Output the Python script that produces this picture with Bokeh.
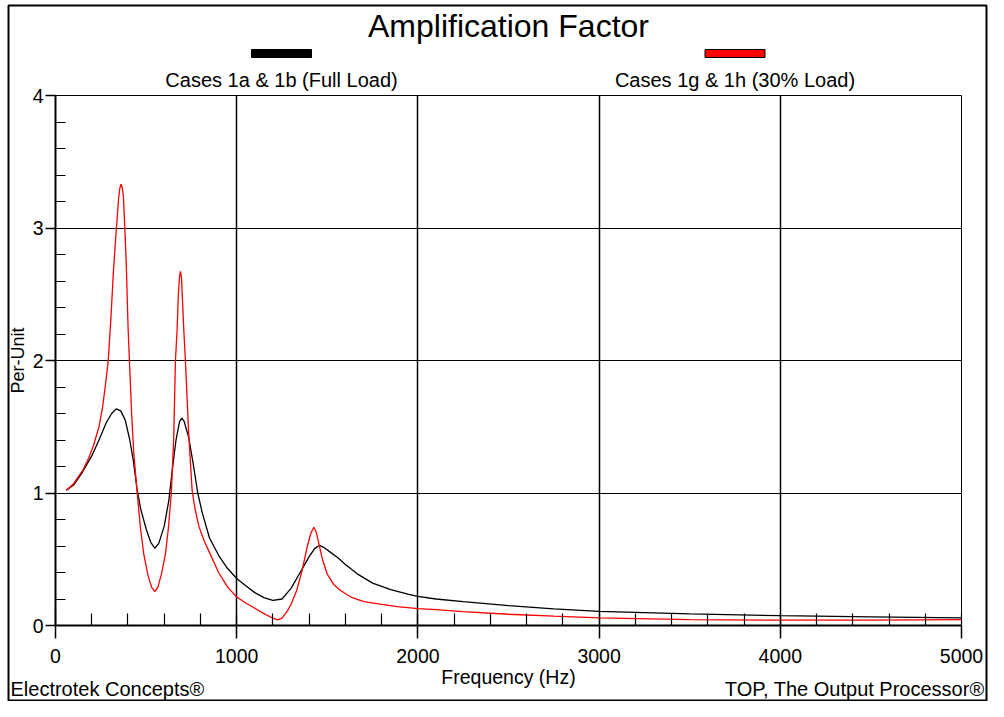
from bokeh.plotting import figure
from bokeh.models import Range1d, SingleIntervalTicker
from bokeh.core.properties import value
from bokeh.embed import file_html
from bokeh.resources import INLINE

TITLE = "Amplification Factor"
SERIES_NAMES = ["Cases 1a & 1b (Full Load)", "Cases 1g & 1h (30% Load)"]
SERIES_COLORS = ["#000000", "#ff0000"]
X_LABEL = "Frequency (Hz)"
Y_LABEL = "Per-Unit"
FOOT_LEFT = "Electrotek Concepts®"
FOOT_RIGHT = "TOP, The Output Processor®"

full_freq = [60, 100, 150, 200, 240, 280, 310, 335, 360, 385, 410, 430, 450, 470,
             500, 525, 548, 570, 600, 625, 645, 665, 685, 697, 710, 735, 760, 785,
             810, 850, 900, 950, 1000, 1050, 1100, 1150, 1200, 1250, 1300, 1350,
             1400, 1430, 1455, 1480, 1520, 1560, 1600, 1665, 1750, 1850, 1950,
             2000, 2100, 2250, 2500, 2750, 3000, 3500, 4000, 4500, 5000]
full_val = [1.02, 1.06, 1.16, 1.28, 1.40, 1.53, 1.60, 1.635, 1.62, 1.55, 1.40, 1.24,
            1.03, 0.88, 0.73, 0.63, 0.583, 0.62, 0.75, 0.94, 1.18, 1.40, 1.54, 1.565,
            1.54, 1.42, 1.22, 1.00, 0.85, 0.66, 0.53, 0.43, 0.355, 0.30, 0.248, 0.21,
            0.189, 0.20, 0.28, 0.40, 0.52, 0.58, 0.604, 0.59, 0.55, 0.51, 0.46, 0.39,
            0.32, 0.27, 0.235, 0.22, 0.20, 0.18, 0.15, 0.125, 0.107, 0.088, 0.074,
            0.065, 0.058]

light_freq = [60, 100, 150, 185, 210, 240, 260, 276, 291, 305, 320, 331, 340, 348,
              355, 362, 369, 375, 381, 390, 401, 408, 420, 432, 451, 470, 487, 510,
              530, 548, 565, 585, 607, 625, 640, 652, 662, 671, 678, 685, 690, 695,
              701, 708, 717, 735, 754, 770, 791, 820, 850, 900, 950, 1000, 1050, 1100,
              1150, 1200, 1225, 1250, 1280, 1300, 1330, 1361, 1390, 1410, 1426, 1440,
              1453, 1475, 1499, 1535, 1573, 1630, 1702, 1800, 1886, 2000, 2100, 2250,
              2500, 2750, 3000, 3500, 4000, 4500, 5000]
light_val = [1.02, 1.07, 1.17, 1.27, 1.36, 1.50, 1.65, 1.82, 2.00, 2.30, 2.68, 2.90,
             3.07, 3.22, 3.30, 3.33, 3.30, 3.23, 3.05, 2.75, 2.23, 2.00, 1.60, 1.30,
             1.00, 0.72, 0.54, 0.38, 0.29, 0.256, 0.29, 0.39, 0.54, 0.76, 1.02, 1.40,
             2.00, 2.23, 2.50, 2.64, 2.672, 2.63, 2.45, 2.23, 2.00, 1.45, 1.02, 0.88,
             0.75, 0.64, 0.55, 0.40, 0.29, 0.215, 0.17, 0.13, 0.09, 0.055, 0.043,
             0.055, 0.11, 0.16, 0.26, 0.415, 0.60, 0.70, 0.742, 0.70, 0.62, 0.49,
             0.39, 0.31, 0.264, 0.215, 0.181, 0.16, 0.143, 0.128, 0.12, 0.105, 0.085,
             0.07, 0.058, 0.045, 0.04, 0.04, 0.044]

X_MAX = 5000
Y_MAX = 4
FONT = "Liberation Sans"
W, H = 988, 701

# ---------------- main chart ----------------
p = figure(width=W, height=H, output_backend="svg", toolbar_location=None,
           x_range=Range1d(0, X_MAX), y_range=Range1d(0, Y_MAX),
           min_border_left=55, min_border_right=27, min_border_top=95,
           min_border_bottom=76, background_fill_color="white",
           border_fill_color="white")

p.outline_line_color = "black"
p.outline_line_width = 1

p.xaxis.ticker = SingleIntervalTicker(interval=1000, num_minor_ticks=5)
p.yaxis.ticker = SingleIntervalTicker(interval=1, num_minor_ticks=5)
p.xgrid.ticker = SingleIntervalTicker(interval=1000)
p.ygrid.ticker = SingleIntervalTicker(interval=1)

for ax in (p.xaxis, p.yaxis):
    ax.axis_line_color = "black"
    ax.axis_line_width = 2
    ax.major_tick_line_color = "black"
    ax.minor_tick_line_color = "black"
    ax.major_tick_line_width = 1.5
    ax.minor_tick_line_width = 1.2
    ax.major_tick_in = 0
    ax.minor_tick_out = 0
    ax.major_label_text_font = FONT
    ax.major_label_text_font_size = "19.5px"
    ax.major_label_text_color = "black"
    ax.axis_label_text_font = FONT
    ax.axis_label_text_font_style = "normal"
    ax.axis_label_text_color = "black"

p.xaxis.major_tick_out = 13
p.xaxis.minor_tick_in = 12
p.xaxis.major_label_standoff = 10
p.xaxis.axis_label = X_LABEL
p.xaxis.axis_label_standoff = 0
p.xaxis.axis_label_text_font_size = "19.5px"

p.yaxis.major_tick_out = 10
p.yaxis.minor_tick_in = 10
p.yaxis.major_label_standoff = 2
p.yaxis.axis_label = Y_LABEL
p.yaxis.axis_label_standoff = 2
p.yaxis.axis_label_text_font_size = "18px"

p.xgrid.grid_line_color = "black"
p.xgrid.grid_line_width = 1.5
p.ygrid.grid_line_color = "black"
p.ygrid.grid_line_width = 1

p.line(full_freq, full_val, line_color=SERIES_COLORS[0], line_width=1.3)
p.line(light_freq, light_val, line_color=SERIES_COLORS[1], line_width=1.3)

# ---------------- transparent overlay: title, legend, footer, frame ----------------
ov = figure(width=W, height=H, output_backend="svg", toolbar_location=None,
            x_range=Range1d(0, W), y_range=Range1d(H, 0),
            x_axis_location=None, y_axis_location=None, min_border=0,
            background_fill_color=None, border_fill_color=None)
ov.outline_line_color = None
ov.grid.visible = False
ov.styles = {"position": "absolute", "left": "0px", "top": "0px"}

ov.quad(left=[8], right=[986], top=[5], bottom=[700], fill_color=None,
        line_color="black", line_width=2)

ov.text(x=[508], y=[25], text=[TITLE], text_font=value(FONT),
        text_font_size="32px", text_align="center", text_baseline="middle",
        text_color="black")

swatch_cx = [281, 734.5]
ov.quad(left=[c - 30 for c in swatch_cx], right=[c + 30 for c in swatch_cx],
        top=[49, 49], bottom=[57, 57], fill_color=SERIES_COLORS,
        line_color="black", line_width=1)
ov.text(x=swatch_cx, y=[79, 79], text=SERIES_NAMES, text_font=value(FONT),
        text_font_size="20px", text_align="center", text_baseline="middle",
        text_color="black")

ov.text(x=[10], y=[688], text=[FOOT_LEFT], text_font=value(FONT),
        text_font_size="20px", text_align="left", text_baseline="middle",
        text_color="black")
ov.text(x=[984], y=[688], text=[FOOT_RIGHT], text_font=value(FONT),
        text_font_size="20px", text_align="right", text_baseline="middle",
        text_color="black")

open("out.html", "w").write(file_html([p, ov], INLINE))
